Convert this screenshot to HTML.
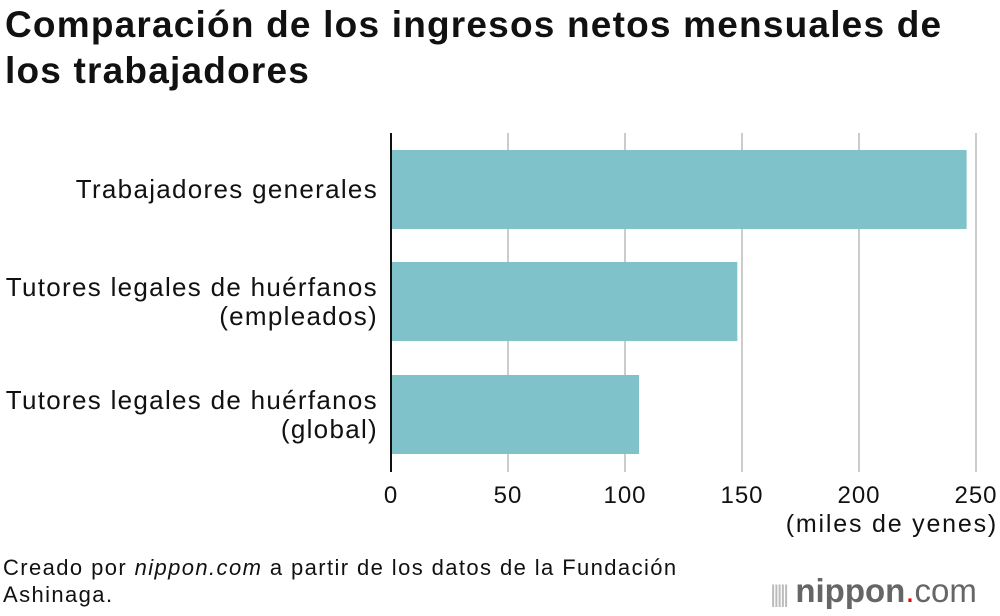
<!DOCTYPE html>
<html><head><meta charset="utf-8"><style>
body{margin:0;width:1000px;height:616px;background:#fff;font-family:"Liberation Sans",sans-serif;overflow:hidden;position:relative}
.t{position:absolute;left:5px;top:2px;font-size:37px;font-weight:bold;line-height:46px;color:#111;letter-spacing:1.2px;white-space:nowrap}
.lab{position:absolute;right:622px;text-align:right;font-size:26px;line-height:29px;color:#111;letter-spacing:1.3px;white-space:nowrap}
.tick{position:absolute;top:482px;font-size:24px;color:#111;transform:translateX(-50%);letter-spacing:1px}
.foot{position:absolute;left:3px;top:554px;font-size:22px;line-height:27px;color:#111;letter-spacing:1.4px;white-space:nowrap}
</style></head><body>
<div class="t">Comparación de los ingresos netos mensuales de<br>los trabajadores</div>
<svg id="c" width="1000" height="616" style="position:absolute;left:0;top:0"></svg>
<div class="lab" style="top:175px">Trabajadores generales</div>
<div class="lab" style="top:273px">Tutores legales de huérfanos<br>(empleados)</div>
<div class="lab" style="top:386px">Tutores legales de huérfanos<br>(global)</div>
<div id="ticks"></div>
<div style="position:absolute;right:2px;top:510px;font-size:25px;color:#111;letter-spacing:1.8px;white-space:nowrap">(miles de yenes)</div>
<div class="foot">Creado por <i>nippon.com</i> a partir de los datos de la Fundación<br>Ashinaga.</div>
<div style="position:absolute;left:770px;top:572px;font-size:33px;color:#666;white-space:nowrap"><span style="font-size:24px;color:#bbb;letter-spacing:-3px">|||||</span> <b>nippon</b><span style="color:#e00">.</span>com</div>
<script>
const categories=["Trabajadores generales","Tutores legales de huérfanos (empleados)","Tutores legales de huérfanos (global)"];
const values=[246,148,106];
const tickValues=[0,50,100,150,200,250];
const x0=391,scale=2.34;
const xs=v=>x0+v*scale;
const ns="http://www.w3.org/2000/svg";
const svg=document.getElementById('c');
tickValues.forEach(t=>{
  if(t>0){const l=document.createElementNS(ns,'line');
  l.setAttribute('x1',xs(t));l.setAttribute('x2',xs(t));l.setAttribute('y1',133);l.setAttribute('y2',472);
  l.setAttribute('stroke','#ccc');l.setAttribute('stroke-width','2');
  
  
  svg.appendChild(l);}
  const d=document.createElement('div');d.className='tick';d.style.left=xs(t)+'px';d.textContent=t;
  
  
  document.getElementById('ticks').appendChild(d);
});
const tops=[150,262,375];
values.forEach((v,i)=>{
  const r=document.createElementNS(ns,'rect');
  r.setAttribute('x',x0);r.setAttribute('y',tops[i]);r.setAttribute('width',xs(v)-x0);r.setAttribute('height',79);
  r.setAttribute('fill','#80c2c9');
  
  
  svg.appendChild(r);
});
const ax=document.createElementNS(ns,'line');
ax.setAttribute('x1',x0);ax.setAttribute('x2',x0);ax.setAttribute('y1',133);ax.setAttribute('y2',472);
ax.setAttribute('stroke','#111');ax.setAttribute('stroke-width','2');


svg.appendChild(ax);
</script>
</body></html>
